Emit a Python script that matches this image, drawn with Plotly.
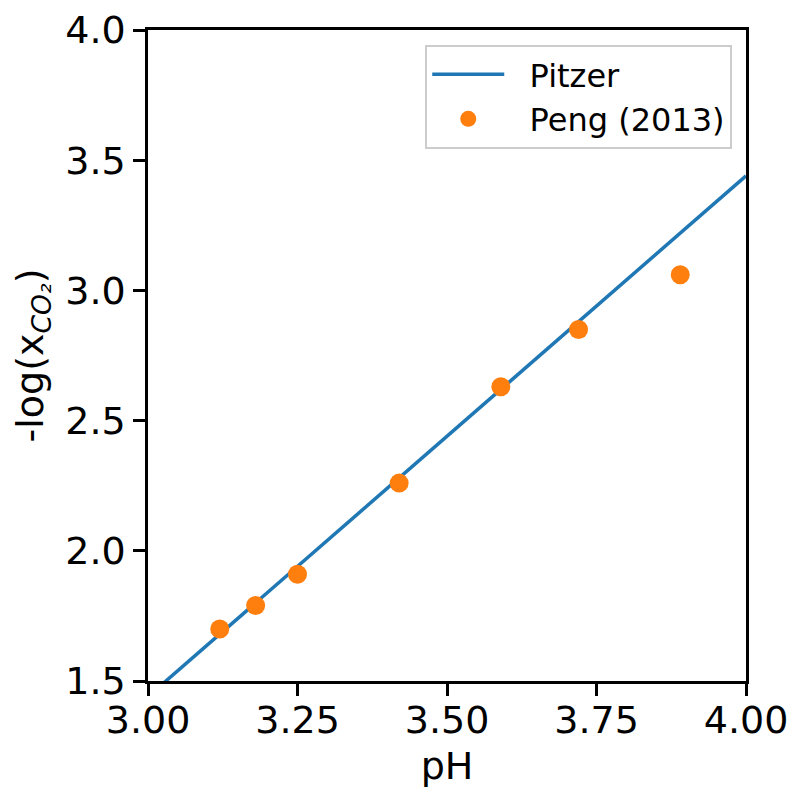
import plotly.graph_objects as go

# Pitzer model curve: pH vs -log(x_CO2)
pitzer_ph = [3.0, 3.25, 3.5, 3.75, 4.0]
pitzer_logx = [1.44, 1.94, 2.44, 2.94, 3.44]

# Peng (2013) measurements
peng_ph = [3.12, 3.18, 3.25, 3.42, 3.59, 3.72, 3.89]
peng_logx = [1.70, 1.79, 1.91, 2.26, 2.63, 2.85, 3.06]

x_ticks = [3.00, 3.25, 3.50, 3.75, 4.00]
y_ticks = [1.5, 2.0, 2.5, 3.0, 3.5, 4.0]

font = "DejaVu Sans"
gap = "\u00a0\u00a0"  # spacing between legend symbol and label

fig = go.Figure()
fig.add_trace(go.Scatter(
    x=pitzer_ph, y=pitzer_logx, mode="lines", name=gap + "Pitzer",
    legendgroup="pitzer",
    line=dict(color="#1f77b4", width=3.5),
))
fig.add_trace(go.Scatter(
    x=peng_ph, y=peng_logx, mode="markers", name=gap + "Peng (2013)",
    legendgroup="peng",
    marker=dict(color="#ff7f0e", size=19, line=dict(width=0)),
))

axis_common = dict(
    showline=True, linecolor="black", linewidth=2.5, mirror=True,
    ticks="outside", ticklen=12, tickwidth=2.5, tickcolor="black",
    showgrid=False, zeroline=False, automargin=False,
    tickfont=dict(family=font, size=38, color="black"),
)

fig.update_layout(
    width=796, height=790,
    margin=dict(l=148, r=50, t=30, b=109),
    plot_bgcolor="white", paper_bgcolor="white",
    font=dict(family=font, color="black"),
    xaxis=dict(
        range=[3.0, 4.0], tickvals=x_ticks,
        ticktext=[f"{v:.2f}" for v in x_ticks],
        ticklabelstandoff=-8,
        title=dict(text="pH", font=dict(family=font, size=38), standoff=12),
        **axis_common,
    ),
    yaxis=dict(
        range=[1.5, 4.0], tickvals=y_ticks,
        ticktext=[f"{v:.1f}" for v in y_ticks],
        title=dict(text="-log(x<sub><i>CO₂</i></sub>)", font=dict(family=font, size=38), standoff=10),
        **axis_common,
    ),
    legend=dict(
        x=0.977, y=0.977, xanchor="right", yanchor="top",
        bgcolor="white", bordercolor="#cccccc", borderwidth=2,
        font=dict(family=font, size=32, color="black"),
        itemwidth=72, traceorder="normal", tracegroupgap=4,
    ),
    showlegend=True,
)

fig.write_html("out.html")
